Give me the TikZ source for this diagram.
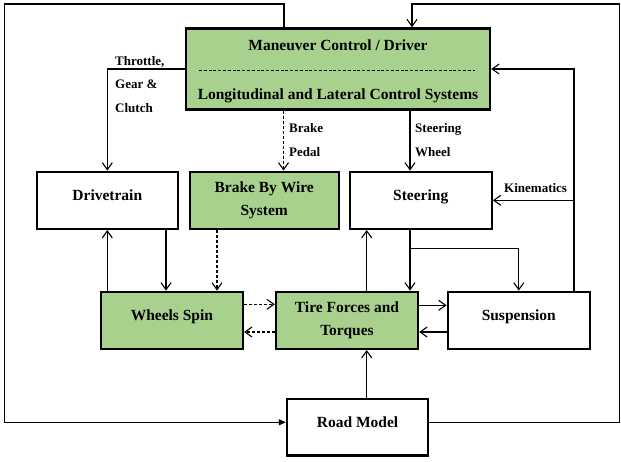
\documentclass[tikz,border=0pt]{standalone}
\usepackage{fontspec}
\setmainfont{Liberation Serif}
\usetikzlibrary{arrows.meta}
\definecolor{boxgreen}{RGB}{169,209,142}
\begin{document}
\begin{tikzpicture}[x=1pt,y=-1pt,
  blk/.style={draw=black, line width=2.4pt, inner sep=0pt, font=\fontsize{15.5}{23.5}\selectfont\bfseries, align=center},
  onel/.style={text height=0pt, text depth=0pt},
  gbox/.style={blk, fill=boxgreen},
  wbox/.style={blk, fill=white},
  lbl/.style={inner sep=0pt, font=\fontsize{13}{23.5}\selectfont\bfseries, align=left},
  conn/.style={line width=1.1pt, -{Straight Barb[length=7pt,width=10pt]}},
  dconn/.style={conn, dash pattern=on 3pt off 2pt},
  fconn/.style={line width=1.1pt, -{Triangle[length=7pt,width=6pt]}},
  plain/.style={line width=1.1pt}
]
\useasboundingbox[fill=white] (0,0) rectangle (621,461);

% boxes
\node[gbox, minimum width=304pt, minimum height=81pt] (main) at (338,69)
  {\rule{0pt}{16pt}Maneuver Control / Driver\\[25.5pt]Longitudinal and Lateral Control Systems};
\node[wbox, onel, minimum width=141pt, minimum height=57pt] (drive) at (107.3,200.3) {Drivetrain};
\node[gbox, minimum width=149pt, minimum height=57pt] (bbw) at (264.2,200.3) {Brake By Wire\\System};
\node[wbox, onel, minimum width=142pt, minimum height=57pt] (steer) at (420.7,200.3) {Steering};
\node[gbox, onel, minimum width=142pt, minimum height=57pt] (wheels) at (171.9,320.3) {Wheels Spin};
\node[gbox, minimum width=142pt, minimum height=57pt] (tire) at (347,320.3) {Tire Forces and\\Torques};
\node[wbox, onel, minimum width=142pt, minimum height=57pt] (susp) at (518.8,320.3) {Suspension};
\node[wbox, onel, minimum width=141pt, minimum height=56.5pt] (road) at (357.5,427.3) {Road Model};

% dashed separator inside main box
\coordinate (dl) at (199,70.7);
\coordinate (dr) at (475,70.7);
\draw[line width=0.9pt, dash pattern=on 3pt off 1.8pt] (dl) -- (dr);

% labels
\node[lbl, anchor=west] (lthr) at (115,84.2) {Throttle,\\Gear \&\\Clutch};
\node[lbl, anchor=west] (lbrk) at (289,140) {Brake\\Pedal};
\node[lbl, anchor=west] (lstw) at (415,140) {Steering\\Wheel};
\node[lbl, anchor=base west] (lkin) at (504,192) {Kinematics};

% helper coordinates
\coordinate (tlx) at ([xshift=-54pt]main.north);
\coordinate (trx) at ([xshift=74pt]main.north);
\coordinate (ctl) at (4.75,4);
\coordinate (ctr) at (619.5,4);
\coordinate (rw) at ([yshift=5pt]road.west);
\coordinate (re) at ([yshift=5pt]road.east);
\coordinate (bp) at ([xshift=-54.5pt]main.south);
\coordinate (sw) at ([xshift=72pt]main.south);
\coordinate (rv) at ([xshift=55.2pt]susp.north);
\coordinate (dtd) at ([xshift=58.7pt]drive.south);
\coordinate (bwd) at ([xshift=-47.2pt]bbw.south);
\coordinate (tsu) at ([xshift=19.7pt]tire.north);
\coordinate (std) at ([xshift=-10.7pt]steer.south);
\coordinate (stb) at (std |- 0,248.7);
\coordinate (rdu) at ([xshift=9.2pt]road.north);

% outer loops
\draw[fconn] (tlx) |- (ctl) |- (rw);
\draw[conn] (re) -| (ctr) -| (trx);

% control outputs
\draw[conn] (main.west) -| (drive.north);
\draw[dconn] (bp) -- (bp |- bbw.north);
\draw[conn] (sw) -- (sw |- steer.north);

% feedback from suspension
\draw[conn] (rv) |- (main.east);
\draw[conn] (rv |- steer.east) -- (steer.east);

% drivetrain / wheels
\draw[conn] (wheels.north -| drive.south) -- (drive.south);
\draw[conn] (dtd) -- (dtd |- wheels.north);
\draw[dconn] (bwd) -- (bwd |- wheels.north);

% steering / tire / suspension
\draw[conn] (tsu) -- (tsu |- steer.south);
\draw[conn] (std) -- (std |- tire.north);
\draw[conn] (stb) -| (susp.north);

% horizontal links
\draw[dconn] ([yshift=16pt]wheels.east) -- ([yshift=16pt]tire.west);
\draw[dconn] ([yshift=-11.7pt]tire.west) -- ([yshift=-11.7pt]wheels.east);
\draw[conn] ([yshift=15pt]tire.east) -- ([yshift=15pt]susp.west);
\draw[conn] ([yshift=-11.7pt]susp.west) -- ([yshift=-11.7pt]tire.east);

% road to tire
\draw[conn] (rdu) -- (rdu |- tire.south);
\end{tikzpicture}
\end{document}
